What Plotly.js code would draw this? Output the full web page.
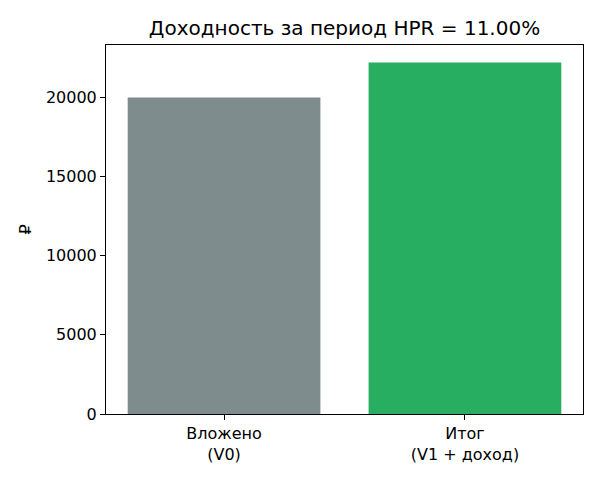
<!DOCTYPE html>
<html>
<head>
<meta charset="utf-8">
<script src="https://cdn.plot.ly/plotly-3.0.1.min.js"></script>
<style>
  html, body { margin: 0; padding: 0; background: #ffffff; }
  #chart { width: 600px; height: 480px; }
</style>
</head>
<body>
<div id="chart"></div>
<script>
const categories = ['Вложено<br>(V0)', 'Итог<br>(V1 + доход)'];
const values = [20000, 22200];
const barColors = ['#7f8c8d', '#27ae60'];
const yTicks = [0, 5000, 10000, 15000, 20000];
const chartTitle = 'Доходность за период HPR = 11.00%';

const font = 'DejaVu Sans, sans-serif';

const bars = {
    x: [0, 1],
    y: values,
    type: 'bar',
    width: 0.8,
    marker: { color: barColors, line: { width: 0 } },
    hoverinfo: 'y',
};

const layout = {
    width: 600,
    height: 480,
    showlegend: false,
    paper_bgcolor: '#ffffff',
    plot_bgcolor: '#ffffff',
    font: { family: font, color: '#000000', size: 16 },
    margin: { l: 106, r: 17, t: 45, b: 66, pad: 0 },
    title: {
        text: chartTitle,
        font: { family: font, size: 20, color: '#000000' },
        x: 0.5,
        xref: 'paper',
        y: 1 - 28 / 480,
        yref: 'container',
        yanchor: 'middle',
    },
    xaxis: {
        range: [-0.49, 1.49],
        tickvals: [0, 1],
        ticktext: categories,
        ticks: 'outside',
        ticklen: 5,
        tickcolor: '#000000',
        showline: true,
        linecolor: '#000000',
        linewidth: 1,
        mirror: true,
        showgrid: false,
        zeroline: false,
        tickfont: { family: font, size: 16 },
    },
    yaxis: {
        range: [0, 23310],
        tickvals: yTicks,
        ticktext: yTicks.map(String),
        ticks: 'outside',
        ticklen: 5,
        tickcolor: '#000000',
        showline: true,
        linecolor: '#000000',
        linewidth: 1,
        mirror: true,
        showgrid: false,
        zeroline: false,
        tickfont: { family: font, size: 16 },
        title: {
            text: '₽',
            font: { family: font, size: 16 },
            standoff: 10,
        },
    },
};

Plotly.newPlot('chart', [bars], layout, { displayModeBar: false, staticPlot: true });
</script>
</body>
</html>
